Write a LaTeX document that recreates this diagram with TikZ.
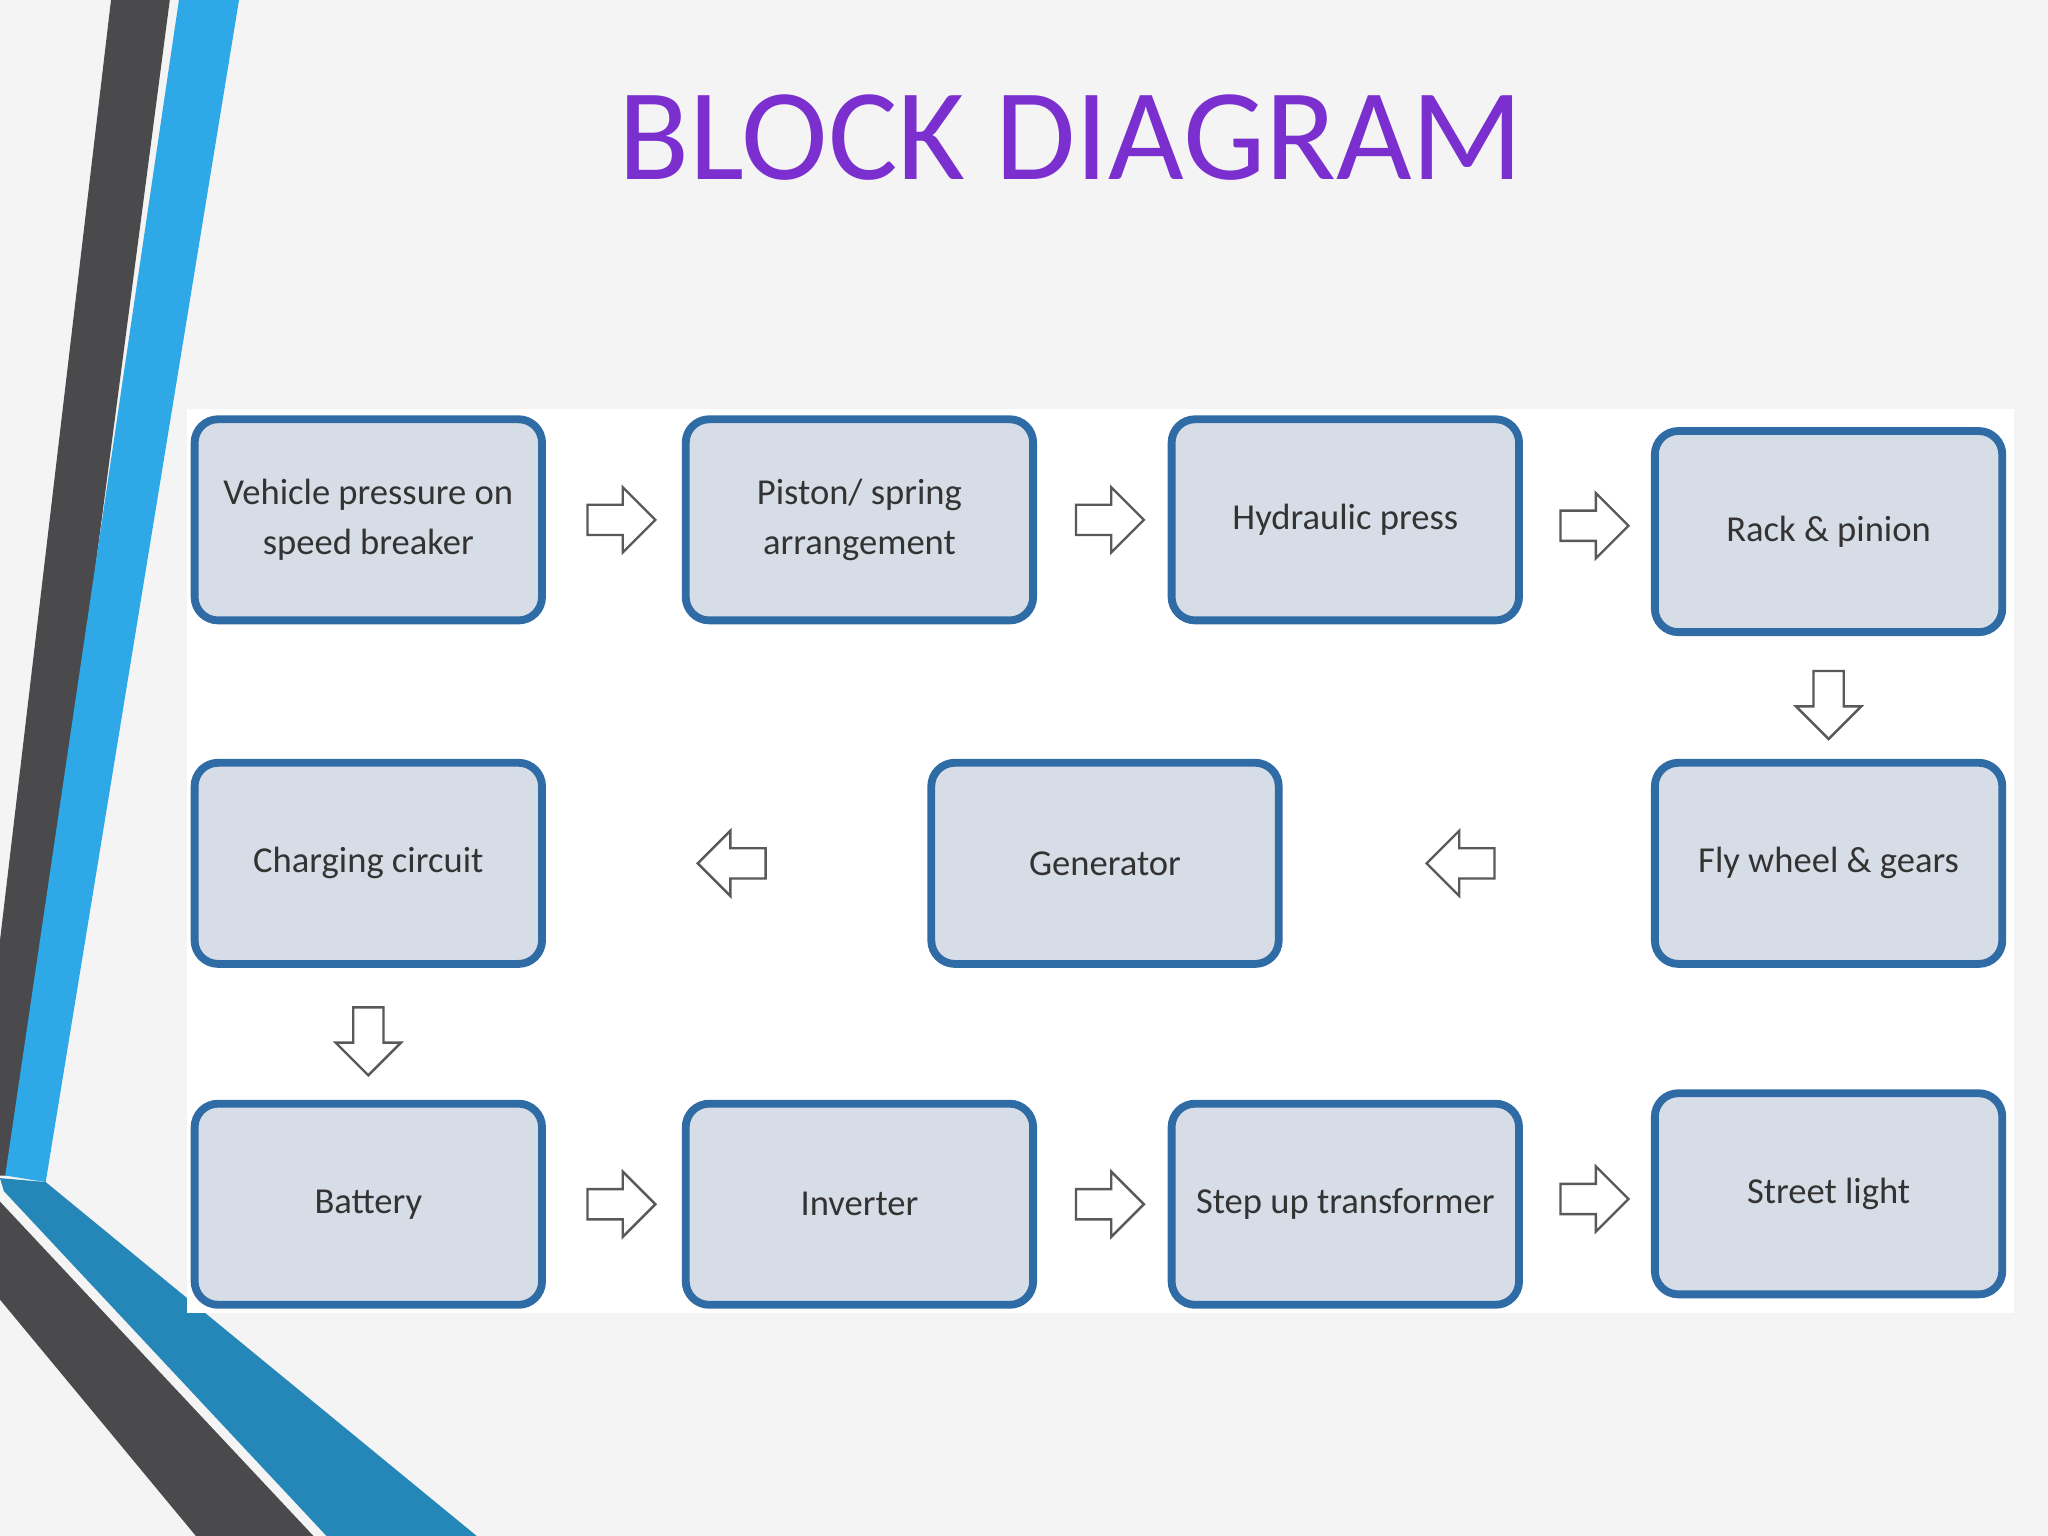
\documentclass[tikz,border=0pt]{standalone}
\usepackage{fontspec}
\setmainfont{Carlito}
\usetikzlibrary{shapes.arrows,calc}
\definecolor{boxfill}{HTML}{D7DDE6}
\definecolor{boxline}{HTML}{2F6CA6}
\definecolor{stripeblue}{HTML}{2EA8E6}
\definecolor{stripegray}{HTML}{4A4A4C}
\definecolor{titlepurple}{HTML}{7B2FCF}
\tikzset{
  block/.style={draw=boxline, line width=3pt, fill=boxfill, rounded corners=9pt,
    minimum width=133pt, minimum height=77pt, align=center, font=\fontsize{14}{19}\selectfont, text=black!80},
  flow/.style={single arrow, draw=gray!70!black, fill=white, line width=0.9pt,
    minimum height=26pt, minimum width=25pt, single arrow head extend=4pt, inner sep=3pt}
}
\begin{document}
\begin{tikzpicture}[x=0.5pt,y=-0.5pt]
\useasboundingbox (0,0) rectangle (1568,1176);
% background and stripes
\fill[gray!9] (0,0) rectangle (1568,1176);
\fill[stripegray] (85,0) -- (130,0) -- (12,900) -- (0,900) -- (0,720) -- cycle;
\fill[stripeblue] (137,0) -- (183,0) -- (35,905) -- (4,900) -- cycle;
\fill[stripegray] (0,920) -- (240,1176) -- (150,1176) -- (0,995) -- cycle;
\fill[stripeblue!80!black] (0,902) -- (35,905) -- (365,1176) -- (250,1176) -- (3,912) -- cycle;
% title
\node[text=titlepurple, font=\fontsize{50}{50}\selectfont] (title) at (820,105) {BLOCK DIAGRAM};
% diagram panel
\fill[white] (143,313) rectangle (1542,1005);
\node[block] (vehicle) at (282,398) {Vehicle pressure on\\speed breaker};
\node[block] (piston) at (658,398) {Piston/ spring\\arrangement};
\node[block] (hydraulic) at (1030,398) {Hydraulic press};
\node[block] (rack) at (1400,407) {Rack \& pinion};
\node[block] (flywheel) at (1400,661) {Fly wheel \& gears};
\node[block] (generator) at (846,661) {Generator};
\node[block] (charging) at (282,661) {Charging circuit};
\node[block] (battery) at (282,922) {Battery};
\node[block] (inverter) at (658,922) {Inverter};
\node[block] (stepup) at (1030,922) {Step up transformer};
\node[block] (street) at (1400,914) {Street light};
% flow arrows
\node[flow] (a1) at ($(vehicle)!0.5!(piston)$) {};
\node[flow] (a2) at ($(piston)!0.5!(hydraulic)$) {};
\node[flow] (a3) at ($(hydraulic)!0.5!(rack)$) {};
\node[flow, rotate=-90] (a4) at ($(rack)!0.5!(flywheel)$) {};
\node[flow, rotate=180] (a5) at (1124,661) {};
\node[flow, rotate=180] (a6) at (566,661) {};
\node[flow, rotate=-90] (a7) at ($(charging)!0.5!(battery)$) {};
\node[flow] (a8) at ($(battery)!0.5!(inverter)$) {};
\node[flow] (a9) at ($(inverter)!0.5!(stepup)$) {};
\node[flow] (a10) at ($(stepup)!0.5!(street)$) {};
\end{tikzpicture}
\end{document}
